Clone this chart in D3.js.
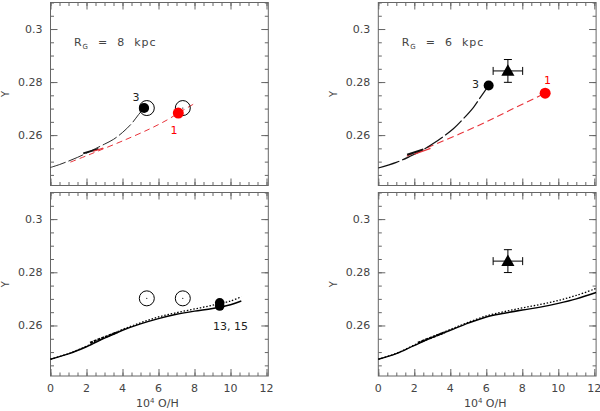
<!DOCTYPE html>
<html>
<head>
<meta charset="utf-8">
<script src="https://cdn.jsdelivr.net/npm/d3@7"></script>
<style>
  body { margin: 0; background: #fff; }
  text { font-family: "DejaVu Sans", sans-serif; fill: #444; }
</style>
</head>
<body>
<svg id="chart" width="600" height="411"></svg>
<script>
// axis ticks
const xTicks = [0, 2, 4, 6, 8, 10, 12];
const xMinor = d3.range(0, 25).map(i => i * 0.5);
const yTicks = [0.26, 0.28, 0.3];
const yTickLabels = ["0.26", "0.28", "0.3"];
const yMinor = d3.range(0, 14).map(i => 0.245 + i * 0.005);

// top left: Rg = 8 kpc, models 3 and 1
const tlModel3 = [[0, 0.2478], [0.5, 0.2489], [1, 0.2502], [1.5, 0.2516], [2, 0.2532], [2.5, 0.2549],
  [3, 0.2566], [3.5, 0.2584], [4, 0.2610], [4.5, 0.2643], [4.9, 0.2678], [5.2, 0.2702]];
const tlModel1 = [[1.1, 0.2498], [2, 0.2522], [2.75, 0.2543], [4, 0.2578], [5.5, 0.2623],
  [6.5, 0.2658], [7.1, 0.2683], [7.97, 0.2718]];
const tlBlackDot = [5.2, 0.2702];
const tlRedDot = [7.1, 0.2683];
const openCircles = [[5.35, 0.2702], [7.35, 0.2702]];

// top right: Rg = 6 kpc
const trModel3 = [[0, 0.2476], [1, 0.2497], [1.77, 0.2520], [2.5, 0.2545], [3.05, 0.2568], [3.6, 0.2594],
  [4.17, 0.2624], [4.7, 0.2660], [5.29, 0.2705], [5.7, 0.2745], [6.13, 0.2787]];
const trModel1 = [[1.58, 0.2520], [3, 0.2561], [4.5, 0.2604], [6, 0.2650], [7.5, 0.2700], [9.27, 0.2758]];
const trBlackDot = [6.13, 0.2787];
const trRedDot = [9.27, 0.2758];
const triangle = { x: 7.2, y: 0.2842, ex: 0.82, ey: 0.0043 };

// bottom left: models 13, 15
const blSolid = [[0, 0.2473], [1, 0.2493], [2, 0.2520], [3, 0.2552], [4, 0.2582], [5, 0.2606],
  [6, 0.2626], [7, 0.2642], [8, 0.2654], [9, 0.2664], [10, 0.2678], [10.6, 0.2692]];
const blDotted = [[0, 0.2473], [1, 0.2494], [2, 0.2522], [3, 0.2554], [4, 0.2585], [5, 0.2610],
  [6, 0.2632], [7, 0.2648], [8, 0.2662], [9, 0.2676], [10, 0.2692], [10.6, 0.2708]];
const blDots = [[9.4, 0.2685], [9.4, 0.2673]];

// bottom right
const brSolid = [[0, 0.2473], [1, 0.2494], [1.95, 0.2523], [3, 0.2555], [4, 0.2582], [5, 0.2609],
  [6, 0.2632], [7, 0.2646], [8, 0.2658], [9, 0.2669], [10, 0.2683], [11, 0.2700], [12.1, 0.2724]];
const brDotted = [[0, 0.2473], [1, 0.2495], [1.95, 0.2525], [3, 0.2557], [4, 0.2585], [5, 0.2612],
  [6, 0.2636], [7, 0.2652], [8, 0.2666], [9, 0.2679], [10, 0.2694], [11, 0.2713], [12.1, 0.2739]];

// short strips near O/H ~ 2-4
const tlStrip = [[1.82, 0.2531], [2.66, 0.2548]];
const tlRedStrip = [[2.38, 0.2539], [2.93, 0.2551]];
const trStrip = [[1.6, 0.2526], [2.5, 0.2546]];
const trRedStrip = [[2.0, 0.2528], [2.9, 0.2550]];
const bStrip = [[2.2, 0.2535], [3.7, 0.2574]];

const svg = d3.select('#chart');
const xDomain = [0, 12.1];
const yDomain = [0.241, 0.31];

const panels = [
  { left: 50.5, top: 2.5, bottom: 185.5, xLabels: false },
  { left: 378.3, top: 2.5, bottom: 185.5, xLabels: false },
  { left: 50.5, top: 192.5, bottom: 376, xLabels: true },
  { left: 378.3, top: 192.5, bottom: 376, xLabels: true }
];

const line = (x, y) => d3.line().curve(d3.curveCatmullRom).x(d => x(d[0])).y(d => y(d[1]));

function drawPanel(p) {
  const width = 217.8;
  const x = d3.scaleLinear().domain(xDomain).range([p.left, p.left + width]);
  const y = d3.scaleLinear().domain(yDomain).range([p.bottom, p.top]);
  const g = svg.append('g');
  const h = p.bottom - p.top;

  // ticks on all four sides, inward
  const axes = [
    [d3.axisBottom(x), `translate(0,${p.bottom})`, xTicks, xMinor],
    [d3.axisTop(x), `translate(0,${p.top})`, xTicks, xMinor],
    [d3.axisLeft(y), `translate(${p.left},0)`, yTicks, yMinor],
    [d3.axisRight(y), `translate(${p.left + width},0)`, yTicks, yMinor]
  ];
  axes.forEach(([ax, tr, major, minor]) => {
    g.append('g').attr('transform', tr)
      .call(ax.tickValues(minor).tickSize(-3.5).tickFormat(''))
      .call(a => a.select('.domain').remove())
      .call(a => a.selectAll('line').attr('stroke', '#666'));
    g.append('g').attr('transform', tr)
      .call(ax.tickValues(major).tickSize(-7).tickFormat(''))
      .call(a => a.select('.domain').remove())
      .call(a => a.selectAll('line').attr('stroke', '#666'));
  });

  g.append('rect')
    .attr('x', p.left).attr('y', p.top)
    .attr('width', width).attr('height', h)
    .attr('fill', 'none').attr('stroke', '#666').attr('stroke-width', 1);

  // tick labels
  g.selectAll('.ylab').data(yTicks).enter().append('text')
    .attr('x', p.left - 8).attr('y', d => y(d)).attr('dy', '0.35em')
    .attr('text-anchor', 'end').attr('font-size', 11)
    .text((d, i) => yTickLabels[i]);
  g.append('text')
    .attr('transform', `translate(${p.left - 45},${(p.top + p.bottom) / 2}) rotate(-90)`)
    .attr('dy', '0.35em')
    .attr('text-anchor', 'middle').attr('font-size', 10).text('Y');

  if (p.xLabels) {
    g.selectAll('.xlab').data(xTicks).enter().append('text')
      .attr('x', d => x(d)).attr('y', p.bottom + 16)
      .attr('text-anchor', 'middle').attr('font-size', 11)
      .text(d => d);
    const t = g.append('text')
      .attr('x', p.left + width / 2 - 2).attr('y', p.bottom + 31)
      .attr('text-anchor', 'middle').attr('font-size', 11);
    t.append('tspan').text('10');
    t.append('tspan').attr('font-size', 7).attr('dy', -4).text('4');
    t.append('tspan').attr('dy', 4).text(' O/H');
  }
  return { g, x, y };
}

const [tl, tr, bl, br] = panels.map(drawPanel);

function path(pn, data, color, width, dash) {
  pn.g.append('path').datum(data)
    .attr('d', line(pn.x, pn.y))
    .attr('fill', 'none').attr('stroke', color)
    .attr('stroke-width', width)
    .attr('stroke-dasharray', dash);
}
function dot(pn, d, color, r) {
  pn.g.append('circle').attr('cx', pn.x(d[0])).attr('cy', pn.y(d[1]))
    .attr('r', r).attr('fill', color);
}
function openCircle(pn, d) {
  pn.g.append('circle').attr('cx', pn.x(d[0])).attr('cy', pn.y(d[1]))
    .attr('r', 7.5).attr('fill', 'none').attr('stroke', '#000').attr('stroke-width', 1);
  pn.g.append('circle').attr('cx', pn.x(d[0])).attr('cy', pn.y(d[1]))
    .attr('r', 0.6).attr('fill', '#000');
}
function label(pn, x, y, txt, color, anchor) {
  pn.g.append('text').attr('x', pn.x(x)).attr('y', pn.y(y)).attr('dy', '0.35em')
    .attr('text-anchor', anchor || 'middle').attr('font-size', 11)
    .style('fill', color).text(txt);
}
function title(pn, kpc) {
  const t = pn.g.append('text').attr('x', pn.x(1.3)).attr('y', pn.y(0.295)).attr('dy', '0.35em')
    .attr('font-size', 11).style('white-space', 'pre').attr('letter-spacing', 1);
  t.append('tspan').text('R');
  t.append('tspan').attr('font-size', 7).attr('dy', 3).text('G');
  t.append('tspan').attr('dy', -3).text(`  =  ${kpc}  kpc`);
}
function triangleMark(pn, d) {
  const cx = pn.x(d.x), cy = pn.y(d.y);
  const g = pn.g.append('g').attr('stroke', '#000').attr('stroke-width', 1);
  g.append('line').attr('x1', pn.x(d.x - d.ex)).attr('x2', pn.x(d.x + d.ex)).attr('y1', cy).attr('y2', cy);
  g.append('line').attr('x1', cx).attr('x2', cx).attr('y1', pn.y(d.y - d.ey)).attr('y2', pn.y(d.y + d.ey));
  [d.x - d.ex, d.x + d.ex].forEach(v => g.append('line').attr('x1', pn.x(v)).attr('x2', pn.x(v)).attr('y1', cy - 4).attr('y2', cy + 4));
  [d.y - d.ey, d.y + d.ey].forEach(v => g.append('line').attr('y1', pn.y(v)).attr('y2', pn.y(v)).attr('x1', cx - 4).attr('x2', cx + 4));
  pn.g.append('path').attr('d', d3.symbol(d3.symbolTriangle, 75)())
    .attr('transform', `translate(${cx},${cy + 1})`).attr('fill', '#000');
}

// top left
title(tl, 8);
path(tl, tlModel1, '#e8333a', 1, '6,4');
path(tl, tlModel3, '#111', 0.9, '16,3');
path(tl, tlStrip, '#111', 2, null);
path(tl, tlRedStrip, '#e8333a', 1.2, null);
openCircles.forEach(d => openCircle(tl, d));
dot(tl, tlBlackDot, '#000', 5);
dot(tl, tlRedDot, '#ff0000', 5.5);
label(tl, 4.75, 0.2745, '3', '#222');
label(tl, 6.86, 0.2618, '1', '#ff0000');

// top right
title(tr, 6);
path(tr, trModel1, '#e8333a', 1.1, '7,4');
path(tr, trModel3, '#111', 1.2, '22,3');
path(tr, trStrip, '#111', 2, null);
path(tr, trRedStrip, '#e8333a', 1.2, null);
dot(tr, trBlackDot, '#000', 5);
dot(tr, trRedDot, '#ff0000', 5.5);
triangleMark(tr, triangle);
label(tr, 5.4, 0.2793, '3', '#222');
label(tr, 9.4, 0.2808, '1', '#ff0000');

// bottom left
path(bl, blDotted, '#000', 1.3, '1.5,1.8');
path(bl, blSolid, '#000', 1.4, null);
path(bl, bStrip, '#000', 2.2, '3,1');
openCircles.forEach(d => openCircle(bl, d));
blDots.forEach(d => dot(bl, d, '#000', 4.8));
label(bl, 10.0, 0.2598, '13, 15', '#222');

// bottom right
path(br, brDotted, '#000', 1.3, '1.5,1.8');
path(br, brSolid, '#000', 1.4, null);
path(br, bStrip, '#000', 2.2, '3,1');
triangleMark(br, triangle);
</script>
</body>
</html>
